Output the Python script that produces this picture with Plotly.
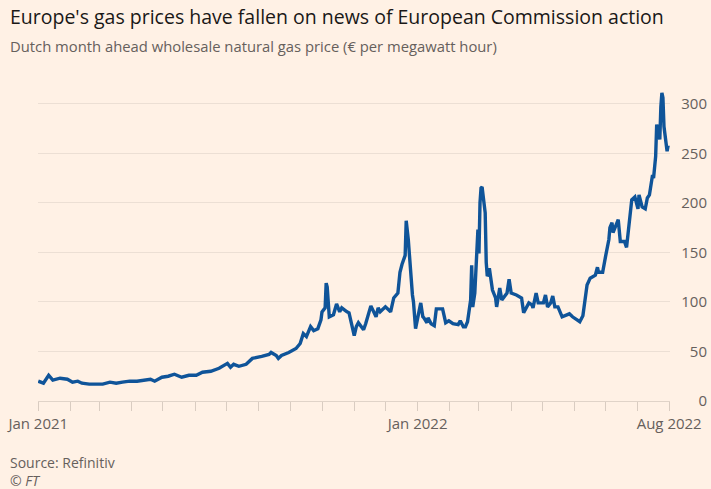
import plotly.graph_objects as go

# Dutch TTF month ahead price (EUR/MWh)
dates_2021 = [
    "2021-01-01", "2021-01-06", "2021-01-11", "2021-01-15", "2021-01-22", "2021-01-29",
    "2021-02-03", "2021-02-08", "2021-02-12", "2021-02-19", "2021-02-26",
    "2021-03-04", "2021-03-11", "2021-03-17", "2021-03-23", "2021-03-30",
    "2021-04-06", "2021-04-12", "2021-04-19", "2021-04-23", "2021-04-30",
    "2021-05-06", "2021-05-12", "2021-05-19", "2021-05-26",
    "2021-06-02", "2021-06-08", "2021-06-16", "2021-06-24",
    "2021-07-02", "2021-07-05", "2021-07-08", "2021-07-13", "2021-07-20", "2021-07-26",
    "2021-08-04", "2021-08-11", "2021-08-13", "2021-08-18", "2021-08-20", "2021-08-23", "2021-08-30",
    "2021-09-06", "2021-09-10", "2021-09-13", "2021-09-16", "2021-09-20", "2021-09-23",
    "2021-09-27", "2021-09-30",
    "2021-10-01", "2021-10-04", "2021-10-05", "2021-10-06", "2021-10-08", "2021-10-12",
    "2021-10-15", "2021-10-18", "2021-10-20", "2021-10-25", "2021-10-27",
    "2021-11-01", "2021-11-03", "2021-11-05", "2021-11-08", "2021-11-10", "2021-11-12",
    "2021-11-17", "2021-11-22", "2021-11-24", "2021-11-26",
    "2021-12-01", "2021-12-06", "2021-12-09", "2021-12-13", "2021-12-15", "2021-12-17",
    "2021-12-20", "2021-12-21", "2021-12-23", "2021-12-27", "2021-12-28", "2021-12-30",
]
prices_2021 = [
    20, 18, 26, 21, 23, 22,
    19, 20, 18, 17, 17,
    17, 19, 18, 19, 20,
    20, 21, 22, 20, 24,
    25, 27, 24, 26,
    26, 29, 30, 33,
    38, 34, 37, 35, 37, 43,
    45, 47, 49, 46, 43, 46, 49,
    53, 58, 68, 65, 75, 71,
    73, 82,
    90, 94, 119, 115, 85, 87,
    98, 90, 94, 90, 89,
    66, 75, 79, 75, 72, 78,
    96, 85, 94, 90,
    95, 90, 104, 109, 130, 138,
    147, 182, 163, 107, 100, 73,
]

dates_2022 = [
    "2022-01-03", "2022-01-04", "2022-01-06", "2022-01-07", "2022-01-10", "2022-01-11",
    "2022-01-14", "2022-01-17", "2022-01-19", "2022-01-25", "2022-01-28", "2022-01-31",
    "2022-02-04", "2022-02-09", "2022-02-11", "2022-02-14", "2022-02-16", "2022-02-18",
    "2022-02-21", "2022-02-22", "2022-02-23", "2022-02-25", "2022-02-28",
    "2022-03-01", "2022-03-02", "2022-03-03", "2022-03-04", "2022-03-07", "2022-03-08",
    "2022-03-09", "2022-03-10", "2022-03-11", "2022-03-14", "2022-03-16", "2022-03-17",
    "2022-03-18", "2022-03-21", "2022-03-23", "2022-03-28", "2022-03-30",
    "2022-04-01", "2022-04-06", "2022-04-11", "2022-04-13", "2022-04-18", "2022-04-21",
    "2022-04-22", "2022-04-25", "2022-04-27",
    "2022-05-02", "2022-05-04", "2022-05-06", "2022-05-09", "2022-05-11", "2022-05-13",
    "2022-05-16", "2022-05-20", "2022-05-27", "2022-05-30",
    "2022-06-06", "2022-06-09", "2022-06-13", "2022-06-16", "2022-06-21", "2022-06-23",
    "2022-06-24", "2022-06-28",
    "2022-07-01", "2022-07-04", "2022-07-05", "2022-07-07", "2022-07-08", "2022-07-13",
    "2022-07-15", "2022-07-19", "2022-07-21", "2022-07-22", "2022-07-26", "2022-07-29",
    "2022-08-01", "2022-08-02", "2022-08-05", "2022-08-08", "2022-08-10", "2022-08-12",
    "2022-08-15", "2022-08-16", "2022-08-18", "2022-08-19", "2022-08-22", "2022-08-23",
    "2022-08-24", "2022-08-25", "2022-08-26", "2022-08-29", "2022-08-30",
]
prices_2022 = [
    95, 99, 85, 84, 79, 84,
    78, 76, 93, 93, 79, 81,
    78, 77, 81, 75, 75, 80,
    102, 137, 95, 109, 173,
    149, 200, 215, 216, 190, 140,
    126, 128, 134, 112, 106, 104,
    95, 114, 102, 109, 123,
    109, 107, 104, 89, 99, 97,
    94, 109, 99,
    99, 107, 95, 99, 106, 95,
    95, 85, 88, 85,
    80, 86, 117, 124, 127, 135,
    130, 130,
    147, 163, 175, 180, 170, 183,
    161, 161, 155, 166, 203, 206,
    194, 208, 196, 194, 205, 208,
    228, 225, 247, 279, 264, 297,
    311, 306, 277, 252, 258,
]

dates = dates_2021 + dates_2022
prices = prices_2021 + prices_2022

# monthly tick marks, only three labelled
month_ticks = ["2021-%02d-01" % m for m in range(1, 13)] + ["2022-%02d-01" % m for m in range(1, 9)] + ["2022-08-31"]
month_text = ["" for _ in month_ticks]
month_text[0] = "Jan 2021"
month_text[12] = "Jan 2022"
month_text[-1] = "Aug 2022"

y_ticks = [0, 50, 100, 150, 200, 250, 300]

BG = "#fff1e5"
GREY = "#66605c"
FONT = "Open Sans"

fig = go.Figure()
fig.add_trace(go.Scatter(
    x=dates, y=prices, mode="lines",
    line=dict(color="#0f5499", width=3.4),
    hoverinfo="x+y",
))

fig.update_layout(
    width=711, height=489,
    paper_bgcolor=BG, plot_bgcolor=BG,
    margin=dict(l=38, r=4, t=80, b=88),
    showlegend=False,
    font=dict(family=FONT, color=GREY, size=15),
    xaxis=dict(
        domain=[0, 0.945],
        range=["2020-12-31 18:00", "2022-09-01"],
        tickmode="array", tickvals=month_ticks, ticktext=month_text,
        ticks="outside", ticklen=9, tickcolor="#d9ccc1", tickwidth=1,
        showgrid=False, showline=True, linecolor="#e0d3c8", linewidth=1,
        zeroline=False, automargin=False,
        tickfont=dict(size=15, color=GREY),
    ),
    yaxis=dict(
        range=[0, 324],
        anchor="free", position=1.0, side="left",
        tickmode="array", tickvals=y_ticks,
        showgrid=True, gridcolor="#ecdfd4", gridwidth=1,
        showline=False, zeroline=False, ticks="", automargin=False,
        tickfont=dict(size=15, color=GREY),
    ),
    annotations=[
        dict(text="Europe's gas prices have fallen on news of European Commission action",
             xref="paper", yref="paper", x=-0.0448, y=1.199, xanchor="left", yanchor="middle",
             showarrow=False, font=dict(family=FONT, size=19.5, color="#1a1817")),
        dict(text="Dutch month ahead wholesale natural gas price (€ per megawatt hour)",
             xref="paper", yref="paper", x=-0.0448, y=1.106, xanchor="left", yanchor="middle",
             showarrow=False, font=dict(family=FONT, size=14.8, color=GREY)),
        dict(text="Source: Refinitiv",
             xref="paper", yref="paper", x=-0.0448, y=-0.193, xanchor="left", yanchor="middle",
             showarrow=False, font=dict(family=FONT, size=14, color=GREY)),
        dict(text="<i>© FT</i>",
             xref="paper", yref="paper", x=-0.0448, y=-0.249, xanchor="left", yanchor="middle",
             showarrow=False, font=dict(family=FONT, size=14, color=GREY)),
    ],
)

# drop the browser's default 8px body margin so the figure sits at the window corner
fig.write_html("out.html", config={"displayModeBar": False},
               post_script="document.body.style.margin = '0';")
